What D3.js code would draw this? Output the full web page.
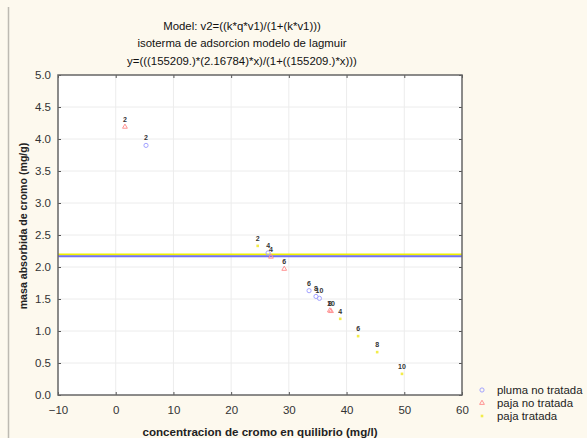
<!DOCTYPE html>
<html><head><meta charset="utf-8">
<script src="https://cdn.jsdelivr.net/npm/d3@7"></script>
<style>
body{margin:0;background:#fdf9ee;}
svg{display:block;font-family:"Liberation Sans",Arial,sans-serif;}
</style></head>
<body><svg id="c" width="587" height="438"></svg>
<script>
const titleLines = ["Model: v2=((k*q*v1)/(1+(k*v1)))","isoterma de adsorcion modelo de lagmuir","y=(((155209.)*(2.16784)*x)/(1+((155209.)*x)))"];
const xTicks = [-10,0,10,20,30,40,50,60];
const yTicks = [0,0.5,1,1.5,2,2.5,3,3.5,4,4.5,5];
const seriesNames = ["pluma no tratada","paja no tratada","paja tratada"];
const pointLabels = ["2","4","6","8","10"];
const plumaX = [5.25,26.4,33.5,34.7,35.3];
const plumaY = [3.90,2.22,1.63,1.54,1.51];
const pajaNoX = [1.6,26.9,29.2,37.1,37.3];
const pajaNoY = [4.19,2.16,1.97,1.32,1.31];
const pajaTrX = [24.6,38.9,42.0,45.3,49.6];
const pajaTrY = [2.33,1.19,0.92,0.67,0.33];
const fitLevels = [2.195,2.16784]; // yellow, blue

const svg = d3.select("#c");
const L=58,R=462,T=75,B=395;
const x = d3.scaleLinear().domain([-10,60]).range([L,R]);
const y = d3.scaleLinear().domain([0,5]).range([B,T]);

svg.append("line").attr("x1",8.5).attr("x2",8.5).attr("y1",7).attr("y2",438).attr("stroke","#bdbab2").attr("stroke-width",1.5);
svg.append("rect").attr("x",L).attr("y",T).attr("width",R-L).attr("height",B-T).attr("fill","#fff");

// grid
svg.append("g").selectAll("line").data(xTicks.slice(1,-1)).join("line")
 .attr("x1",d=>x(d)).attr("x2",d=>x(d)).attr("y1",T).attr("y2",B).attr("stroke","#ececec");
svg.append("g").selectAll("line").data(yTicks.slice(1,-1)).join("line")
 .attr("y1",d=>y(d)).attr("y2",d=>y(d)).attr("x1",L).attr("x2",R).attr("stroke","#ececec");

// fit lines
const fitColors=["#f0f000","#7272f2"];
svg.append("g").selectAll("line").data(fitLevels).join("line")
 .attr("x1",L).attr("x2",R).attr("y1",d=>y(d)).attr("y2",d=>y(d))
 .attr("stroke",(d,i)=>fitColors[i]).attr("stroke-width",2.2);

// axes
const ax = g=>g.selectAll("text").attr("fill","#333").attr("font-size","11.5px");
svg.append("g").attr("transform",`translate(0,${B})`).call(d3.axisBottom(x).tickValues(xTicks).tickSize(-3).tickPadding(11).tickFormat(d3.format("d")))
 .call(g=>g.select(".domain").remove()).call(ax).call(g=>g.selectAll("line").attr("stroke","#555"));
svg.append("g").attr("transform",`translate(0,${T})`).call(d3.axisTop(x).tickValues(xTicks).tickSize(-3).tickFormat(""))
 .call(g=>g.select(".domain").remove()).call(g=>g.selectAll("line").attr("stroke","#555"));
svg.append("g").attr("transform",`translate(${L},0)`).call(d3.axisLeft(y).tickValues(yTicks).tickSize(-3).tickPadding(7).tickFormat(d3.format(".1f")))
 .call(g=>g.select(".domain").remove()).call(ax).call(g=>g.selectAll("line").attr("stroke","#555"));
svg.append("g").attr("transform",`translate(${R},0)`).call(d3.axisRight(y).tickValues(yTicks).tickSize(-3).tickFormat(""))
 .call(g=>g.select(".domain").remove()).call(g=>g.selectAll("line").attr("stroke","#555"));
svg.append("rect").attr("x",L).attr("y",T).attr("width",R-L).attr("height",B-T).attr("fill","none").attr("stroke","#666").attr("stroke-width",1.5);

// points
const series=[
 {xs:plumaX,ys:plumaY,type:"circle",color:"#a3a3ff"},
 {xs:pajaNoX,ys:pajaNoY,type:"tri",color:"#ff9393"},
 {xs:pajaTrX,ys:pajaTrY,type:"dot",color:"#f2ec4a"}];
function marker(g,type,color,cx,cy){
 if(type==="circle") g.append("circle").attr("cx",cx).attr("cy",cy).attr("r",2.1).attr("fill","none").attr("stroke",color).attr("stroke-width",1);
 else if(type==="tri") g.append("path").attr("d",d3.symbol(d3.symbolTriangle,10)()).attr("transform",`translate(${cx},${cy})`).attr("fill","none").attr("stroke",color).attr("stroke-width",1);
 else g.append("rect").attr("x",cx-1.3).attr("y",cy-1.3).attr("width",2.6).attr("height",2.6).attr("fill",color);
}
const pg=svg.append("g");
series.forEach(s=>{
 s.xs.forEach((xv,i)=>{
  marker(pg,s.type,s.color,x(xv),y(s.ys[i]));
  pg.append("text").attr("x",x(xv)).attr("y",y(s.ys[i])-5).attr("text-anchor","middle")
   .attr("font-size","7px").attr("font-weight","bold").attr("fill","#333").text(pointLabels[i]);
 });
});

// title
svg.append("g").selectAll("text").data(titleLines).join("text")
 .attr("x",242).attr("y",(d,i)=>29.5+i*17.5).attr("text-anchor","middle").attr("font-size","11.4px").attr("fill","#111").text(d=>d);

// axis titles
svg.append("text").attr("x",260).attr("y",436).attr("text-anchor","middle").attr("font-size","11.6px").attr("font-weight","bold").attr("fill","#222").text("concentracion de cromo en quilibrio (mg/l)");
svg.append("text").attr("transform",`translate(27,226) rotate(-90)`).attr("text-anchor","middle").attr("font-size","10.6px").attr("font-weight","bold").attr("fill","#222").text("masa absorbida de cromo (mg/g)");

// legend
const lg=svg.append("g");
seriesNames.forEach((n,i)=>{
 const yy=390+i*13;
 marker(lg,series[i].type,series[i].color,482,yy);
 lg.append("text").attr("x",497).attr("y",yy+4).attr("font-size","11.4px").attr("fill","#222").text(n);
});
</script></body></html>
